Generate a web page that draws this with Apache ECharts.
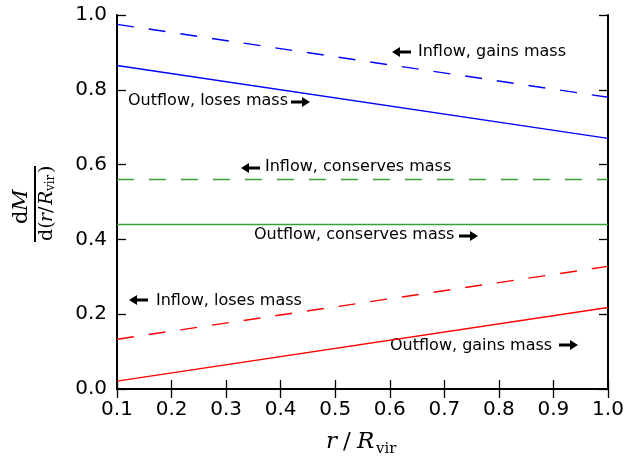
<!DOCTYPE html>
<html>
<head>
<meta charset="utf-8">
<script src="https://cdn.jsdelivr.net/npm/echarts@6/dist/echarts.min.js"></script>
<style>
  html, body { margin: 0; padding: 0; background: #fff; }
  #chart { width: 638px; height: 462px; }
</style>
</head>
<body>
<div id="chart"></div>
<script>
// radius samples (r / R_vir)
var radius = [0.1, 1.0];

// dM / d(r/R_vir) for each case
var inflowGains = [0.975, 0.78];
var outflowLoses = [0.865, 0.67];
var inflowConserves = [0.56, 0.56];
var outflowConserves = [0.44, 0.44];
var inflowLoses = [0.133, 0.328];
var outflowGains = [0.021, 0.218];

var xTicks = [0.1, 0.2, 0.3, 0.4, 0.5, 0.6, 0.7, 0.8, 0.9, 1.0];
var yTicks = [0.0, 0.2, 0.4, 0.6, 0.8, 1.0];

function pairs(ys) {
	return radius.map(function (x, i) { return [x, ys[i]]; });
}

function lineSeries(name, ys, color, dashed) {
	return {
		name: name,
		type: 'line',
		data: pairs(ys),
		symbol: 'none',
		silent: true,
		lineStyle: {
			color: color,
			width: 1.4,
			type: dashed ? [17, 15] : 'solid'
		}
	};
}

// small filled arrow, dir = 1 points right, -1 points left
function arrow(tailX, y, dir) {
	var len = 19, head = 8, hw = 5, sw = 1.6;
	var tip = tailX + dir * len;
	var neck = tip - dir * head;
	return {
		type: 'polygon',
		silent: true,
		shape: {
			points: [
				[tailX, y - sw], [neck, y - sw], [neck, y - hw], [tip, y],
				[neck, y + hw], [neck, y + sw], [tailX, y + sw]
			]
		},
		style: { fill: '#000' }
	};
}

function note(text, x, y) {
	return {
		type: 'text',
		x: x,
		y: y,
		silent: true,
		style: {
			text: text,
			font: '16px "DejaVu Sans"',
			fill: '#000',
			textAlign: 'left',
			textVerticalAlign: 'middle'
		}
	};
}

// math-like label piece, y is the vertical centre of the glyph box
var serif = '"DejaVu Serif"';
function mtext(t, x, y, size, italic) {
	return {
		type: 'text',
		x: x,
		y: y,
		silent: true,
		style: {
			text: t,
			font: (italic ? 'italic ' : '') + size + 'px ' + serif,
			fill: '#000',
			textAlign: 'left',
			textVerticalAlign: 'middle'
		}
	};
}

var myChart = echarts.init(document.getElementById('chart'));

var axisLine = { show: true, lineStyle: { color: '#000', width: 2 } };
var tickIn = { show: true, inside: true, length: 9, lineStyle: { color: '#000', width: 1.3 } };

option = {
	animation: false,
	backgroundColor: '#fff',
	grid: { left: 117, right: 30, top: 15, bottom: 73 },
	xAxis: [{
		type: 'value',
		min: 0.1,
		max: 1.0,
		interval: 0.1,
		axisLine: axisLine,
		axisTick: tickIn,
		splitLine: { show: false },
		axisLabel: {
			color: '#000',
			fontFamily: 'DejaVu Sans',
			fontSize: 20,
			margin: 11,
			formatter: function (v) { return v.toFixed(1); }
		}
	}, {
		type: 'value',
		position: 'top',
		min: 0.1,
		max: 1.0,
		interval: 0.1,
		axisLine: axisLine,
		axisTick: tickIn,
		splitLine: { show: false },
		axisLabel: { show: false }
	}],
	yAxis: [{
		type: 'value',
		min: 0,
		max: 1.0,
		interval: 0.2,
		axisLine: axisLine,
		axisTick: tickIn,
		splitLine: { show: false },
		axisLabel: {
			color: '#000',
			fontFamily: 'DejaVu Sans',
			fontSize: 20,
			margin: 10,
			formatter: function (v) { return v.toFixed(1); }
		}
	}, {
		type: 'value',
		position: 'right',
		min: 0,
		max: 1.0,
		interval: 0.2,
		axisLine: axisLine,
		axisTick: tickIn,
		splitLine: { show: false },
		axisLabel: { show: false }
	}],
	series: [
		lineSeries('Inflow, gains mass', inflowGains, '#0000ff', true),
		lineSeries('Outflow, loses mass', outflowLoses, '#0000ff', false),
		lineSeries('Inflow, conserves mass', inflowConserves, '#3a9e3a', true),
		lineSeries('Outflow, conserves mass', outflowConserves, '#3a9e3a', false),
		lineSeries('Inflow, loses mass', inflowLoses, '#ff0000', true),
		lineSeries('Outflow, gains mass', outflowGains, '#ff0000', false)
	],
	graphic: [
		note('Inflow, gains mass', 418, 52), arrow(411, 52, -1),
		note('Outflow, loses mass', 128, 101), arrow(291, 102, 1),
		note('Inflow, conserves mass', 265, 167), arrow(260, 168, -1),
		note('Outflow, conserves mass', 254, 235), arrow(459, 236, 1),
		note('Inflow, loses mass', 156, 301), arrow(148, 300, -1),
		note('Outflow, gains mass', 390, 346), arrow(559, 345, 1),
		// x axis title: r / R_vir
		mtext('r', 326, 442, 23, true),
		mtext('/', 343, 442, 23, false),
		mtext('R', 357, 442, 23, true),
		mtext('vir', 376, 449, 15, false),
		// y axis title: dM / d(r/R_vir), rotated
		{
			type: 'group',
			x: 35,
			y: 204,
			rotation: Math.PI / 2,
			children: [
				mtext('d', -20, -13, 21, false),
				mtext('M', -7, -13, 21, true),
				{ type: 'rect', silent: true, shape: { x: -38, y: -1, width: 76, height: 2 }, style: { fill: '#000' } },
				mtext('d(', -37, 12, 19, false),
				mtext('r', -18, 12, 19, true),
				mtext('/', -9, 12, 19, false),
				mtext('R', -1, 12, 19, true),
				mtext('vir', 13, 16, 12, false),
				mtext(')', 31, 12, 19, false)
			]
		}
	]
};

myChart.setOption(option);
</script>
</body>
</html>
